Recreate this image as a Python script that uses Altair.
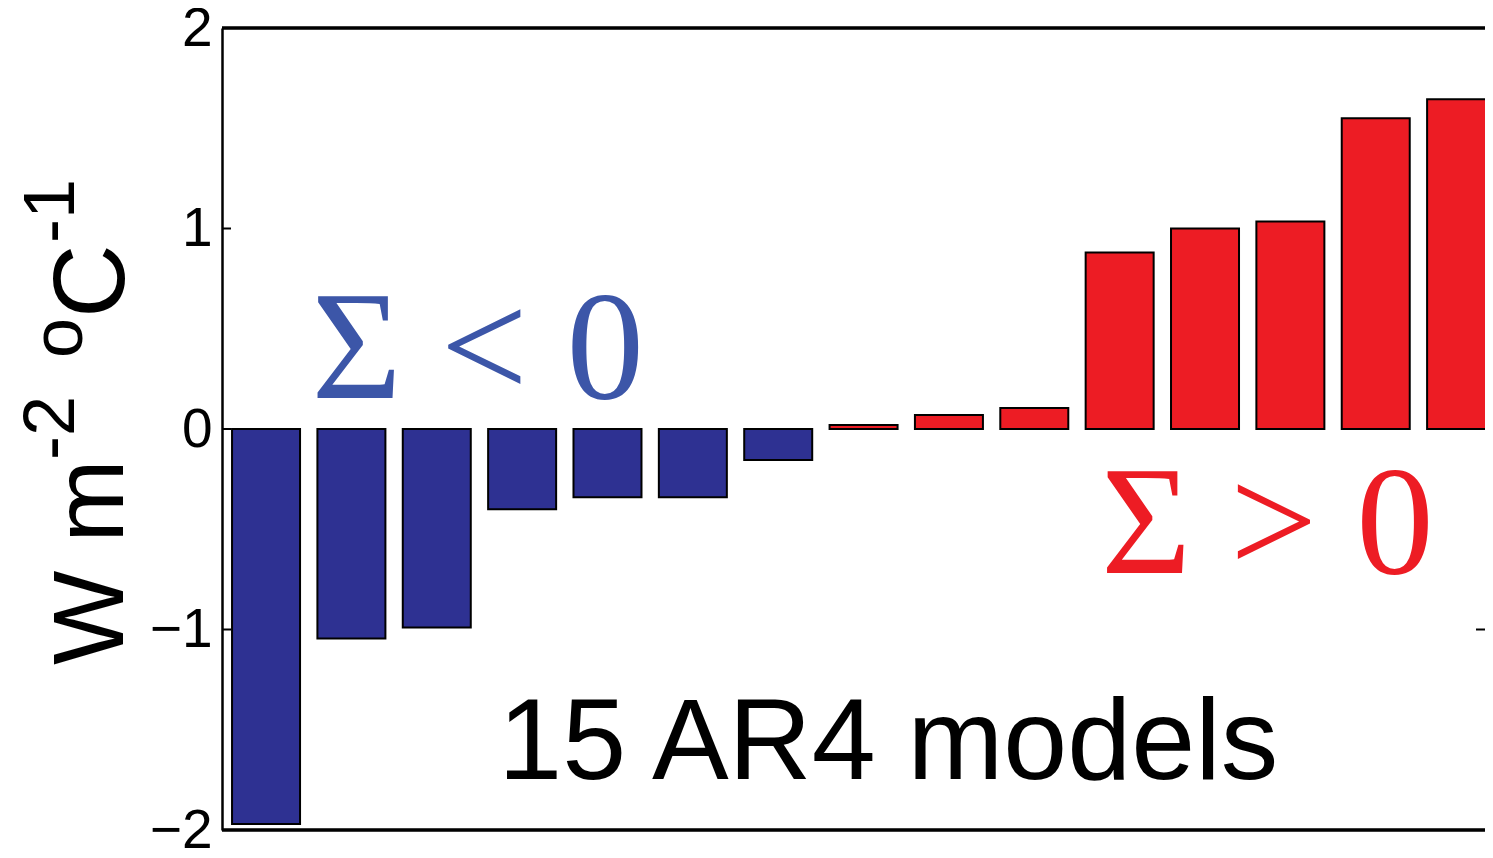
import altair as alt
import pandas as pd

# Data
model_index = list(range(1, 16))
feedback = [-1.97, -1.045, -0.99, -0.40, -0.34, -0.34, -0.155,
            0.02, 0.07, 0.105, 0.88, 1.00, 1.035, 1.55, 1.645]
sign_label = ["neg" if v < 0 else "pos" for v in feedback]
tick_values = [-2, -1, 0, 1, 2]

W, H = 1263, 802
XDOM = [0.484, 15.28]

bars_df = pd.DataFrame({"model": model_index, "value": feedback, "sign": sign_label})
ticks_df = pd.DataFrame({"t": tick_values})

xs = alt.Scale(domain=XDOM, nice=False, zero=False, padding=0)
ys = alt.Scale(domain=[-2, 2], nice=False, zero=False, padding=0)

y_axis = alt.Axis(values=tick_values, format="d", title=None, ticks=False, grid=False,
                  labelFont="Liberation Sans", labelFontSize=55, labelColor="black",
                  labelPadding=10, domain=True, domainColor="black", domainWidth=2.5,
                  labelFlush=False)

x_enc = alt.X("model:Q", scale=xs, axis=None)

# inward ticks (left & right)
left_ticks = alt.Chart(ticks_df).mark_rule(color="black", strokeWidth=2).encode(
    y=alt.Y("t:Q", scale=ys, axis=y_axis), x=alt.value(0), x2=alt.value(9))
right_ticks = alt.Chart(ticks_df).mark_rule(color="black", strokeWidth=2).encode(
    y=alt.Y("t:Q", scale=ys, axis=y_axis), x=alt.value(W - 9), x2=alt.value(W))

bars = alt.Chart(bars_df).mark_bar(size=68, stroke="black", strokeWidth=2, clip=True).encode(
    x=x_enc,
    y=alt.Y("value:Q", scale=ys, axis=y_axis),
    color=alt.Color("sign:N", scale=alt.Scale(domain=["neg", "pos"], range=["#2E3192", "#ED1C24"]),
                    legend=None),
)

top_line = alt.Chart(ticks_df).mark_rule(color="black", strokeWidth=2.5).encode(
    y=alt.value(0), x=alt.value(0), x2=alt.value(W))
bottom_line = alt.Chart(ticks_df).mark_rule(color="black", strokeWidth=2.5).encode(
    y=alt.value(H), x=alt.value(0), x2=alt.value(W))

# annotations
ann_neg = alt.Chart(ticks_df.head(1)).mark_text(
    text="Σ < 0", font="Liberation Serif", fontSize=155, color="#3C56A8",
    align="center", baseline="alphabetic").encode(
    x=alt.datum(3.48, scale=xs), y=alt.datum(0.157, scale=ys))
ann_pos = alt.Chart(ticks_df.head(1)).mark_text(
    text="Σ > 0", font="Liberation Serif", fontSize=155, color="#ED1C24",
    align="center", baseline="alphabetic").encode(
    x=alt.datum(12.73, scale=xs), y=alt.datum(-0.72, scale=ys))
ann_models = alt.Chart(ticks_df.head(1)).mark_text(
    text="15 AR4 models", font="Liberation Sans", fontSize=115, color="black",
    align="center", baseline="alphabetic").encode(
    x=alt.datum(8.29, scale=xs), y=alt.datum(-1.746, scale=ys))

# y-axis title pieces (rotated, with superscripts)
def title_piece(txt, fs, px, py):
    return alt.Chart(ticks_df.head(1)).mark_text(
        text=txt, font="Liberation Sans", fontSize=fs, color="black", angle=270,
        align="left", baseline="alphabetic").encode(x=alt.value(px), y=alt.value(py))

title_parts = [
    title_piece("W m", 100, -99, 637),
    title_piece("-2", 72, -148, 432),
    title_piece("o", 72, -140, 330),
    title_piece("C", 102, -98, 290),
    title_piece("-1", 72, -148, 215),
]

chart = alt.layer(
    left_ticks, right_ticks, bars, top_line, bottom_line,
    ann_neg, ann_pos, ann_models, *title_parts
).properties(
    width=W, height=H,
    autosize=alt.AutoSizeParams(type="none"),
    padding={"left": 214, "top": 20, "right": 0, "bottom": 20},
).configure_view(stroke=None).configure(background="white")

chart.save("out.html", embed_options={"renderer": "svg", "actions": False})
